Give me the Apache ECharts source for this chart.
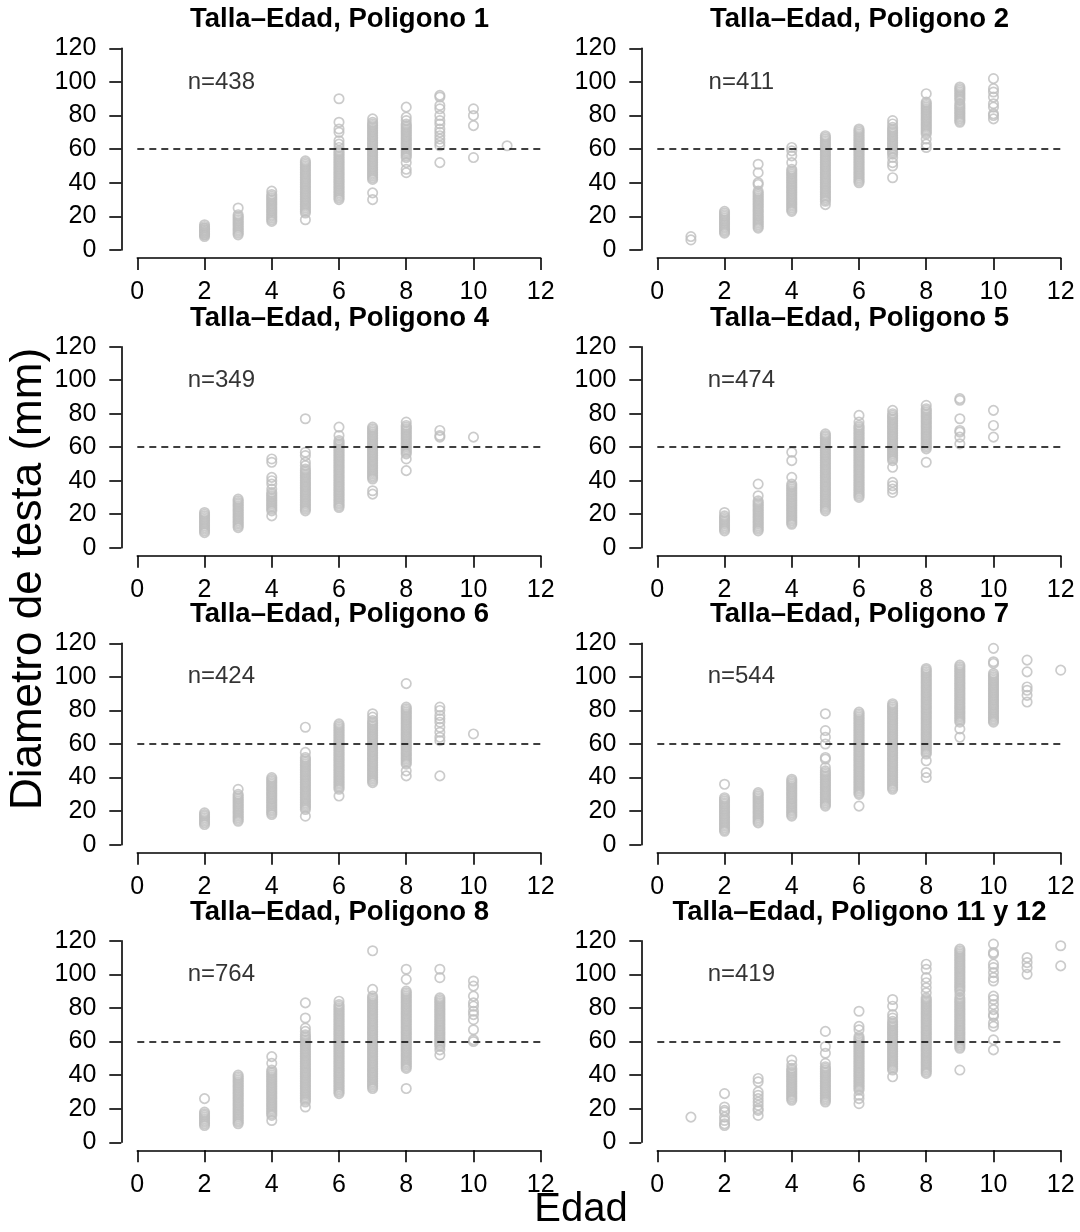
<!DOCTYPE html>
<html><head><meta charset="utf-8">
<script src="https://cdn.jsdelivr.net/npm/echarts@6/dist/echarts.min.js"></script>
<style>html,body{margin:0;padding:0;background:#fff}#c{width:1080px;height:1232px}</style>
</head><body><div id="c"></div>
<script>
// ---------- data ----------
const titles = ['Talla\u2013Edad, Poligono 1','Talla\u2013Edad, Poligono 2','Talla\u2013Edad, Poligono 4','Talla\u2013Edad, Poligono 5',
  'Talla\u2013Edad, Poligono 6','Talla\u2013Edad, Poligono 7','Talla\u2013Edad, Poligono 8','Talla\u2013Edad, Poligono 11 y 12'];
const nLabels = ['n=438','n=411','n=349','n=474','n=424','n=544','n=764','n=419'];
const nLabelPos = [2.5, 100];
const refLine = 60;
const xMin = 0, xMax = 12, xStep = 2;
const yMin = 0, yMax = 120, yStep = 20;
const yTitle = 'Diametro de testa (mm)';
const xTitle = 'Edad';

const pol1 = [
 [2,[8,9,9,10,10,11,11,12,12,13,13,14,15]],
 [3,[9,10,11,12,13,14,15,16,17,18,19,20,21,25]],
 [4,[17,18,19,20,21,22,23,24,25,26,27,28,29,30,31,32,33,35]],
 [5,[18,22,23,24,25,26,27,28,29,30,31,32,33,34,35,36,37,38,39,40,41,42,43,44,45,46,47,48,49,50,51,52,53]],
 [6,[30,31,32,33,34,35,36,37,38,39,40,41,42,43,44,45,46,47,48,49,50,51,52,53,54,55,56,57,58,59,61,63,65,70,72,76,90]],
 [7,[30,34,42,43,44,45,46,47,48,49,50,51,52,53,54,55,56,57,58,59,60,61,62,63,64,65,66,67,68,69,70,71,72,73,74,75,76,78]],
 [8,[46,48,52,55,56,57,58,59,60,61,62,63,64,65,66,67,68,69,70,71,72,73,74,75,77,79,85]],
 [9,[52,62,64,66,68,70,72,75,77,80,84,86,91,92]],
 [10,[55,74,80,84]],
 [11,[62]]
];
const pol2 = [
 [1,[6,8]],
 [2,[10,11,12,13,14,15,16,17,18,19,20,21,22,23]],
 [3,[13,14,15,16,17,18,19,20,21,22,23,24,25,26,27,28,29,30,31,32,33,34,35,39,40,46,51]],
 [4,[23,24,25,26,27,28,29,30,31,32,33,34,35,36,37,38,39,40,41,42,43,44,45,46,47,48,52,56,59,61]],
 [5,[27,29,30,31,32,33,34,35,36,37,38,39,40,41,42,43,44,45,46,47,48,49,50,51,52,53,54,55,56,57,58,59,60,61,62,63,64,65,66,67,68]],
 [6,[40,41,42,43,44,45,46,47,48,49,50,51,52,53,54,55,56,57,58,59,60,61,62,63,64,65,66,67,68,69,70,71,72]],
 [7,[43,50,52,55,57,58,59,60,61,62,63,64,65,66,67,68,69,70,71,72,73,75,77]],
 [8,[61,63,66,69,70,71,72,73,74,75,76,77,78,79,80,81,82,83,84,85,86,87,88,93]],
 [9,[76,77,78,79,80,81,82,83,84,85,86,87,89,90,91,92,93,94,95,96,97]],
 [10,[78,80,81,85,87,91,94,96,102]]
];
const pol4 = [
 [2,[9,10,11,12,13,14,15,16,17,18,19,20,21]],
 [3,[12,13,14,15,16,17,18,19,20,21,22,23,24,25,26,27,28,29]],
 [4,[19,22,23,24,25,26,27,28,29,30,31,32,33,35,38,40,42,51,53]],
 [5,[22,23,24,25,26,27,28,29,30,31,32,33,34,35,36,37,38,39,40,41,42,43,44,45,46,47,49,51,55,57,77]],
 [6,[24,25,26,27,28,29,30,31,32,33,34,35,36,37,38,39,40,41,42,43,44,45,46,47,48,49,50,51,52,53,54,55,56,57,58,59,60,61,62,63,64,67,72]],
 [7,[32,34,41,42,43,44,45,46,47,48,49,50,51,52,53,54,55,56,57,58,59,60,61,62,63,64,65,66,67,68,69,70,71,72]],
 [8,[46,53,56,57,58,59,60,61,62,63,64,65,66,67,68,69,70,71,72,73,75]],
 [9,[66,67,70]],
 [10,[66]]
];
const pol5 = [
 [2,[10,11,12,13,14,15,16,17,18,19,21]],
 [3,[10,11,12,13,14,15,16,17,18,19,20,21,22,23,24,25,26,27,28,31,38]],
 [4,[14,15,16,17,18,19,20,21,22,23,24,25,26,27,28,29,30,31,32,33,34,35,36,37,38,42,52,57]],
 [5,[22,23,24,25,26,27,28,29,30,31,32,33,34,35,36,37,38,39,40,41,42,43,44,45,46,47,48,49,50,51,52,53,54,55,56,57,58,59,60,61,62,63,64,65,66,67,68]],
 [6,[30,31,32,33,34,35,36,37,38,39,40,41,42,43,44,45,46,47,48,49,50,51,52,53,54,55,56,57,58,59,60,61,62,63,64,65,66,67,68,69,70,71,72,73,75,79]],
 [7,[33,35,37,39,48,52,53,54,55,56,57,58,59,60,61,62,63,64,65,66,67,68,69,70,71,72,73,74,75,76,77,78,79,80,82]],
 [8,[51,59,60,61,62,63,64,65,66,67,68,69,70,71,72,73,74,75,76,77,78,79,80,81,82,83,85]],
 [9,[62,66,69,70,77,88,89]],
 [10,[66,73,82]]
];
const pol6 = [
 [2,[12,13,14,15,16,17,18,19]],
 [3,[14,15,16,17,18,19,20,21,22,23,24,25,26,27,28,29,30,33]],
 [4,[18,19,20,21,22,23,24,25,26,27,28,29,30,31,32,33,34,35,36,37,38,39,40]],
 [5,[17,21,22,23,24,25,26,27,28,29,30,31,32,33,34,35,36,37,38,39,40,41,42,43,44,45,46,47,48,49,50,51,52,55,70]],
 [6,[29,33,34,35,36,37,38,39,40,41,42,43,44,45,46,47,48,49,50,51,52,53,54,55,56,57,58,59,60,61,62,63,64,65,66,67,68,69,70,71,72]],
 [7,[37,38,39,40,41,42,43,44,45,46,47,48,49,50,51,52,53,54,55,56,57,58,59,60,61,62,63,64,65,66,67,68,69,70,71,72,73,74,76,78]],
 [8,[41,44,48,49,50,51,52,53,54,55,56,57,58,59,60,61,62,63,64,65,66,67,68,69,70,71,72,73,74,75,76,77,78,79,80,81,82,96]],
 [9,[41,62,64,67,70,73,75,77,80,82]],
 [10,[66]]
];
const pol7 = [
 [2,[8,9,10,11,12,13,14,15,16,17,18,19,20,21,22,23,24,25,26,27,28,36]],
 [3,[13,14,15,16,17,18,19,20,21,22,23,24,25,26,27,28,29,30,31]],
 [4,[17,18,19,20,21,22,23,24,25,26,27,28,29,30,31,32,33,34,35,36,37,38,39]],
 [5,[23,24,25,26,27,28,29,30,31,32,33,34,35,36,37,38,39,40,41,42,43,44,46,51,52,60,64,68,78]],
 [6,[23,30,31,32,33,34,35,36,37,38,39,40,41,42,43,44,45,46,47,48,49,50,51,52,53,54,55,56,57,58,59,60,61,62,63,64,65,66,67,68,69,70,71,72,73,74,75,76,77,78,79]],
 [7,[33,34,35,36,37,38,39,40,41,42,43,44,45,46,47,48,49,50,51,52,53,54,55,56,57,58,59,60,61,62,63,64,65,66,67,68,69,70,71,72,73,74,75,76,77,78,79,80,81,82,83,84]],
 [8,[40,43,50,54,55,56,57,58,59,60,61,62,63,64,65,66,67,68,69,70,71,72,73,74,75,76,77,78,79,80,81,82,83,84,85,86,87,88,89,90,91,92,93,94,95,96,97,98,99,100,101,102,103,104,105]],
 [9,[64,69,73,74,75,76,77,78,79,80,81,82,83,84,85,86,87,88,89,90,91,92,93,94,95,96,97,98,99,100,101,102,103,104,105,106,107]],
 [10,[73,74,75,76,77,78,79,80,81,82,83,84,85,86,87,88,89,90,91,92,93,94,95,96,97,98,99,100,101,102,108,109,117]],
 [11,[85,89,92,94,103,110]],
 [12,[104]]
];
const pol8 = [
 [2,[10,11,12,13,14,15,16,17,18,26]],
 [3,[11,12,13,14,15,16,17,18,19,20,21,22,23,24,25,26,27,28,29,30,31,32,33,34,35,36,37,38,39,40]],
 [4,[13,16,17,18,19,20,21,22,23,24,25,26,27,28,29,30,31,32,33,34,35,36,37,38,39,40,41,42,43,47,51]],
 [5,[21,24,25,26,27,28,29,30,31,32,33,34,35,36,37,38,39,40,41,42,43,44,45,46,47,48,49,50,51,52,53,54,55,56,57,58,59,60,61,62,63,64,66,68,74,83]],
 [6,[29,30,31,32,33,34,35,36,37,38,39,40,41,42,43,44,45,46,47,48,49,50,51,52,53,54,55,56,57,58,59,60,61,62,63,64,65,66,67,68,69,70,71,72,73,74,75,76,77,78,79,80,81,82,84]],
 [7,[32,33,34,35,36,37,38,39,40,41,42,43,44,45,46,47,48,49,50,51,52,53,54,55,56,57,58,59,60,61,62,63,64,65,66,67,68,69,70,71,72,73,74,75,76,77,78,79,80,81,82,83,84,85,86,87,91,114]],
 [8,[32,44,45,46,47,48,49,50,51,52,53,54,55,56,57,58,59,60,61,62,63,64,65,66,67,68,69,70,71,72,73,74,75,76,77,78,79,80,81,82,83,84,85,86,87,88,89,90,97,103]],
 [9,[52,55,57,58,59,60,61,62,63,64,65,66,67,68,69,70,71,72,73,74,75,76,77,78,79,80,81,82,83,84,85,86,98,103]],
 [10,[60,61,67,73,76,78,81,83,87,93,96]]
];
const pol1112 = [
 [1,[15]],
 [2,[10,11,13,15,18,19,21,29]],
 [3,[16,19,20,22,24,26,28,30,36,38]],
 [4,[25,26,27,28,29,30,31,32,33,34,35,36,37,38,39,40,41,42,43,44,46,49]],
 [5,[24,25,26,27,28,29,30,31,32,33,34,35,36,37,38,39,40,41,42,43,44,45,47,53,57,66]],
 [6,[23,26,28,31,32,33,34,35,36,37,38,39,40,41,42,43,44,45,46,47,48,49,50,51,52,53,54,55,56,57,58,59,60,61,62,63,67,69,78]],
 [7,[39,43,44,45,46,47,48,49,50,51,52,53,54,55,56,57,58,59,60,61,62,63,64,65,66,67,68,69,70,71,72,74,76,81,85]],
 [8,[41,42,43,44,45,46,47,48,49,50,51,52,53,54,55,56,57,58,59,60,61,62,63,64,65,66,67,68,69,70,71,72,73,74,75,76,77,78,79,80,81,82,83,84,85,86,89,92,95,98,103,106]],
 [9,[43,56,57,58,59,60,61,62,63,64,65,66,67,68,69,70,71,72,73,74,75,76,77,78,79,80,81,82,83,84,85,86,88,90,91,92,93,94,95,96,97,98,99,100,101,102,103,104,105,106,107,108,109,110,111,112,113,114,115]],
 [10,[55,61,69,71,75,76,79,82,85,87,96,98,101,104,106,112,113,118]],
 [11,[100,104,107,110]],
 [12,[105,117]]
];
const panels = [pol1, pol2, pol4, pol5, pol6, pol7, pol8, pol1112];

// ---------- layout / style ----------
const FONT = '"Liberation Sans", Arial, Helvetica, sans-serif';
const colLeft = [137.3, 657.3];
const gridW = 403.4;
const rowTop = [48.3, 346.7, 643.3, 940.7];
const rowH = [201.7, 201.0, 201.4, 201.6];
const AX = {color: '#000', width: 1.6};

const chart = echarts.init(document.getElementById('c'), null, {renderer: 'canvas'});
const grid = [], xAxis = [], yAxis = [], series = [], graphic = [];

panels.forEach((pan, i) => {
  const c = i % 2, r = Math.floor(i / 2);
  grid.push({left: colLeft[c], top: rowTop[r], width: gridW, height: rowH[r], containLabel: false});
  xAxis.push({
    gridIndex: i, type: 'value', min: xMin, max: xMax, interval: xStep, offset: 8,
    axisLine: {show: true, onZero: false, lineStyle: AX},
    axisTick: {show: true, length: 12, lineStyle: AX},
    axisLabel: {fontSize: 25, color: '#000', margin: 22, fontFamily: FONT},
    splitLine: {show: false}
  });
  yAxis.push({
    gridIndex: i, type: 'value', min: yMin, max: yMax, interval: yStep, offset: 16,
    axisLine: {show: true, onZero: false, lineStyle: AX},
    axisTick: {show: true, length: 12, lineStyle: AX},
    axisLabel: {fontSize: 25, color: '#000', margin: 25, fontFamily: FONT},
    splitLine: {show: false}
  });
  const pts = [];
  pan.forEach(([age, vals]) => vals.forEach(v => pts.push([age, v])));
  series.push({
    type: 'scatter', xAxisIndex: i, yAxisIndex: i, data: pts,
    symbol: 'circle', symbolSize: 9.4, silent: true,
    itemStyle: {color: 'rgba(0,0,0,0)', borderColor: '#BEBEBE', borderWidth: 1.7},
    markLine: {
      silent: true, symbol: ['none', 'none'], animation: false,
      label: {show: false},
      lineStyle: {color: '#000', width: 1.6, type: [7, 5]},
      data: [{yAxis: refLine}]
    }
  });
  series.push({
    type: 'scatter', xAxisIndex: i, yAxisIndex: i, data: [nLabelPos],
    symbolSize: 1, silent: true, itemStyle: {color: 'rgba(0,0,0,0)'},
    label: {show: true, position: 'inside', formatter: nLabels[i], fontSize: 24, color: '#000', fontFamily: FONT}
  });
  graphic.push({
    type: 'text', x: colLeft[c] + gridW / 2 + 0.5, y: rowTop[r] - 28.6,
    style: {text: titles[i], textAlign: 'center', textVerticalAlign: 'middle',
      font: 'bold 27.5px ' + FONT, fill: '#000'}
  });
});

graphic.push({
  type: 'text', x: 28.5, y: 579, rotation: Math.PI / 2,
  style: {text: yTitle, textAlign: 'center', textVerticalAlign: 'middle', font: '44px ' + FONT, fill: '#000'}
});
graphic.push({
  type: 'text', x: 581, y: 1209.5,
  style: {text: xTitle, textAlign: 'center', textVerticalAlign: 'middle', font: '40px ' + FONT, fill: '#000'}
});

chart.setOption({animation: false, backgroundColor: '#fff', grid, xAxis, yAxis, series, graphic});
</script>
</body></html>
